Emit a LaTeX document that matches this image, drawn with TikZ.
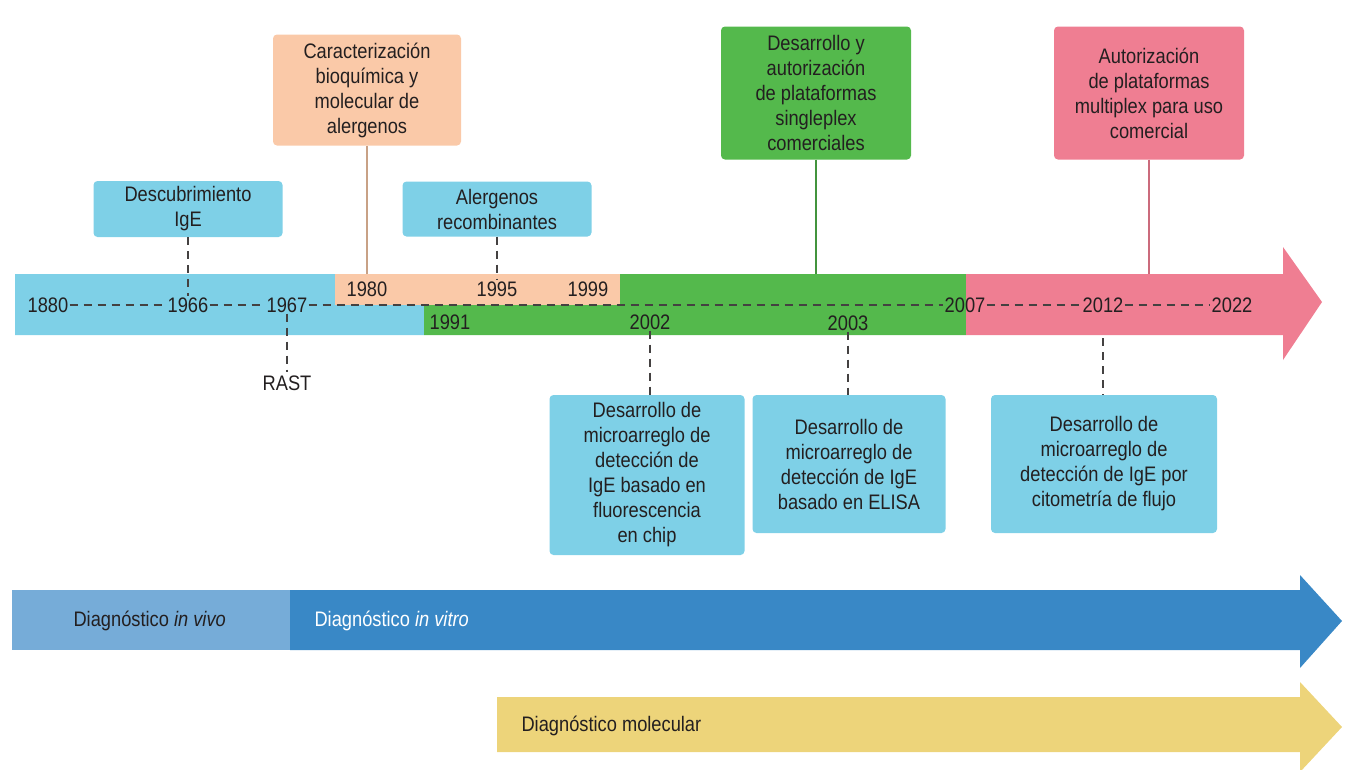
\documentclass[tikz,border=0pt]{standalone}
\usepackage{fontspec}
\setmainfont{Liberation Sans}[FakeStretch=0.87]
\usetikzlibrary{positioning}
\definecolor{txt}{RGB}{35,31,32}
\definecolor{skyb}{RGB}{126,208,231}
\definecolor{peach}{RGB}{250,201,168}
\definecolor{leaf}{RGB}{84,185,76}
\definecolor{rose}{RGB}{239,126,146}
\definecolor{vivo}{RGB}{118,172,216}
\definecolor{vitro}{RGB}{57,136,198}
\definecolor{molec}{RGB}{237,212,122}

\begin{document}
\begin{tikzpicture}[x=1pt,y=-1pt,
        every node/.style={font=\fontsize{21}{25}\selectfont, text=txt},
        evbox/.style={rounded corners=4pt, align=center, inner sep=2pt},
        year/.style={inner sep=1pt},
        dashline/.style={draw=txt!85, line width=1.1pt, dash pattern=on 8pt off 6pt},
        link/.style={line width=1.2pt}]
    \useasboundingbox (0,0) rectangle (1345,769);

    % timeline bar
    \fill[skyb] (15,274) -- (335,274) -- (335,305) -- (424,305) -- (424,335) -- (15,335) -- cycle;
    \fill[peach] (335,274) rectangle (620,305);
    \fill[leaf] (620,274) -- (966,274) -- (966,335) -- (424,335) -- (424,305) -- (620,305) -- cycle;
    \fill[rose] (966,274) -- (1283,274) -- (1283,247) -- (1322,302) -- (1283,360) -- (1283,335) -- (966,335) -- cycle;
    \coordinate (bartop) at (0,274);
    \coordinate (barbot) at (0,338);

    % years
    \node[year] (y1880) at (48,305) {1880};
    \node[year] (y1966) at (188,305) {1966};
    \node[year] (y1967) at (287,305) {1967};
    \node[year] (y1980) at (367,289) {1980};
    \node[year] (y1995) at (497,289) {1995};
    \node[year] (y1999) at (588,289) {1999};
    \node[year] (y1991) at (450,322) {1991};
    \node[year] (y2002) at (650,322) {2002};
    \node[year] (y2003) at (848,323) {2003};
    \node[year] (y2007) at (965,305) {2007};
    \node[year] (y2012) at (1103,305) {2012};
    \node[year] (y2022) at (1232,305) {2022};
    \node (rast) at (287,383) {RAST};

    % events above
    \node[evbox, fill=skyb, minimum width=189pt, minimum height=56pt] (desc) at (188,209) {Descubrimiento\\IgE};
    \node[evbox, fill=peach, minimum width=188pt, minimum height=111pt] (carac) at (367,90) {Caracterización\\bioquímica y\\molecular de\\alergenos};
    \node[evbox, fill=skyb, minimum width=189pt, minimum height=55pt] (alerg) at (497,209) {Alergenos\\recombinantes};
    \node[evbox, fill=leaf, minimum width=190pt, minimum height=133pt] (single) at (816,93) {Desarrollo y\\autorización\\de plataformas\\singleplex\\comerciales};
    \node[evbox, fill=rose, minimum width=190pt, minimum height=133pt] (multi) at (1149,93) {Autorización\\de plataformas\\multiplex para uso\\comercial};

    % events below
    \node[evbox, fill=skyb, minimum width=195pt, minimum height=160pt] (chip) at (647,475) {Desarrollo de\\microarreglo de\\detección de\\IgE basado en\\fluorescencia\\en chip};
    \node[evbox, fill=skyb, minimum width=193pt, minimum height=138pt] (elisa) at (849,464) {Desarrollo de\\microarreglo de\\detección de IgE\\basado en ELISA};
    \node[evbox, fill=skyb, minimum width=226pt, minimum height=138pt] (flujo) at (1104,464) {Desarrollo de\\microarreglo de\\detección de IgE por\\citometría de flujo};

    % connectors
    \draw[link, draw=peach!80!black] (carac) -- (carac |- bartop);
    \draw[link, draw=leaf!80!black] (single) -- (single |- bartop);
    \draw[link, draw=rose!85!black] (multi) -- (multi |- bartop);
    \draw[dashline] (y1880) -- (y1966) -- (y1967) -- (y2007) -- (y2012) -- (y2022);
    \draw[dashline] (desc) -- (y1966);
    \draw[dashline] (alerg) -- (y1995);
    \draw[dashline] (y1967) -- (rast);
    \draw[dashline] (y2002) -- (y2002 |- chip.north);
    \draw[dashline] (y2003) -- (y2003 |- elisa.north);
    \draw[dashline] (y2012 |- barbot) -- (y2012 |- flujo.north);

    % diagnosis arrows
    \fill[vivo] (12,590) rectangle (290,650);
    \fill[vitro] (290,590) -- (1300,590) -- (1300,575) -- (1342,621) -- (1300,668) -- (1300,650) -- (290,650) -- cycle;
    \fill[molec] (497,697) -- (1300,697) -- (1300,682) -- (1342,727) -- (1300,772) -- (1300,752) -- (497,752) -- cycle;
    \node[anchor=west] (invivo) at (70,621) {Diagnóstico \textit{in vivo}};
    \node[anchor=west, text=white] (invitro) at (311,621) {Diagnóstico \textit{in vitro}};
    \node[anchor=west] (molecular) at (518,726) {Diagnóstico molecular};
\end{tikzpicture}
\end{document}
